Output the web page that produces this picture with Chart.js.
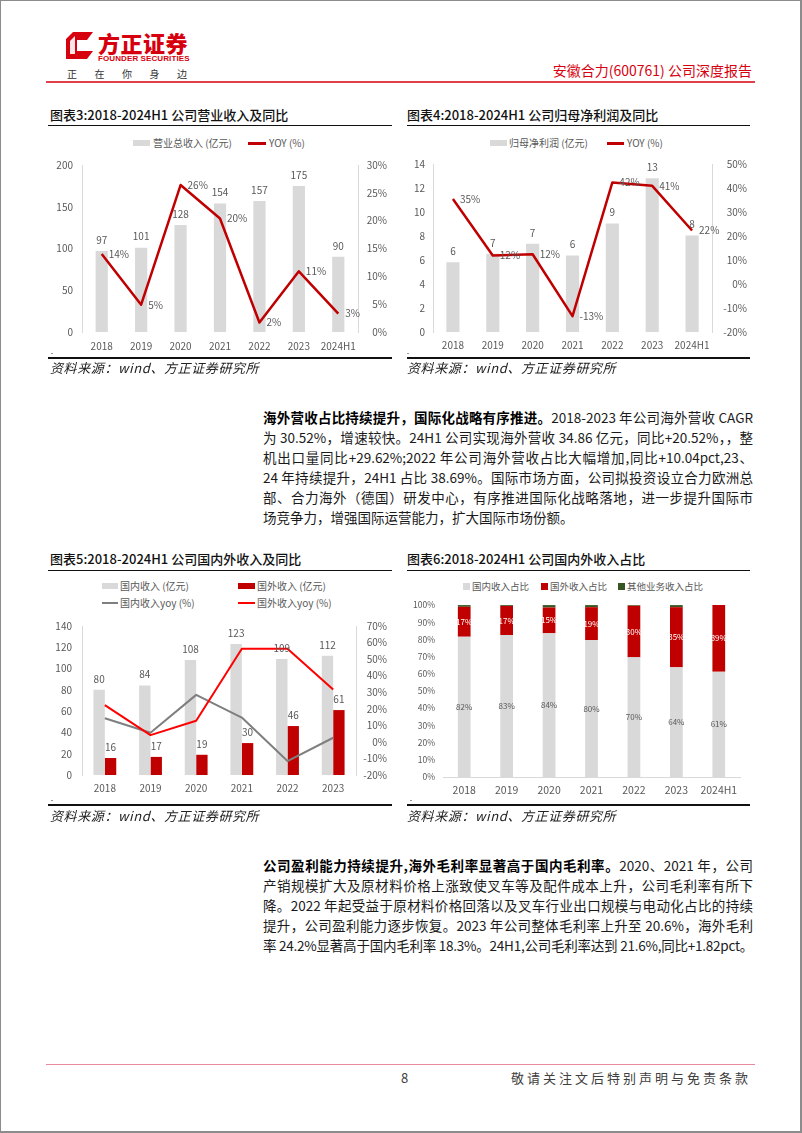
<!DOCTYPE html>
<html>
<head>
<meta charset="utf-8">
<script src="https://cdn.jsdelivr.net/npm/chart.js@4.4.1/dist/chart.umd.min.js"></script>
<style>
  body { margin: 0; background: #fff; font-family: "Noto Sans CJK SC", sans-serif; }
  #page { position: relative; width: 802px; height: 1133px; overflow: hidden; background: #fff; }
  #frame { position: absolute; left: 0; top: 0; right: 0; bottom: 0; border: 1px solid #8c8c8c; border-right-width: 2px; border-bottom-width: 2px; pointer-events: none; }
  .abs { position: absolute; white-space: nowrap; }
  .ttl { position: absolute; font-size: 13px; font-weight: 500; color: #111; line-height: 16px; white-space: nowrap; }
  .rule { position: absolute; height: 0; border-top: 1.5px solid #111; }
  .rule2 { position: absolute; height: 0; border-top: 2px solid #111; }
  .src { position: absolute; font-size: 13px; font-style: italic; color: #222; line-height: 16px; white-space: nowrap; letter-spacing: 0.6px; }
  .lg { position: absolute; font-size: 10px; color: #595959; line-height: 12px; white-space: nowrap; }
  .sw { position: absolute; }
  .ln { position: absolute; left: 263px; width: 490px; font-size: 13.5px; line-height: 18px; color: #1a1a1a; white-space: nowrap; text-align: justify; text-align-last: justify; }
  .ln b { font-weight: bold; color: #000; }
  canvas { position: absolute; }
</style>
</head>
<body>
<div id="page">
  <!-- header -->
  <svg class="abs" style="left:66px;top:32px" width="28" height="27" viewBox="0 0 28 27">
    <path d="M7 0 H27 L21 8 H11 V19 H27 L21 27 H0 V7 Z" fill="#d7000f"/>
    <path d="M4 9 L9 4 V22 H4 Z" fill="#fff" opacity="0.9"/>
  </svg>
  <div class="abs" style="left:98px;top:29px;font-size:22px;font-weight:900;color:#d7000f;line-height:26px;letter-spacing:0.5px">方正证券</div>
  <div class="abs" style="left:98px;top:54px;font-size:8px;font-weight:bold;color:#d7000f;line-height:10px;font-family:'Liberation Sans',sans-serif;letter-spacing:0.1px">FOUNDER SECURITIES</div>
  <div class="abs" style="left:67px;top:67px;font-size:10px;color:#333;line-height:14px;letter-spacing:17.5px">正在你身边</div>
  <div class="abs" style="right:50px;top:61px;font-size:14px;color:#d7000f;line-height:18px">安徽合力(600761) 公司深度报告</div>
  <div class="abs" style="left:46px;top:81px;width:709px;height:1.5px;background:#e0404c"></div>

  <!-- chart 3 -->
  <div class="ttl" style="left:50px;top:107px">图表3:2018-2024H1 公司营业收入及同比</div>
  <div class="rule" style="left:48px;top:125px;width:344px"></div>
  <div class="sw" style="left:133px;top:140px;width:17px;height:6px;background:#d9d9d9"></div>
  <div class="lg" style="left:153px;top:137px">营业总收入 (亿元)</div>
  <div class="sw" style="left:248px;top:142px;width:18px;height:2.5px;background:#c00000"></div>
  <div class="lg" style="left:269px;top:137px">YOY (%)</div>
  <canvas id="c3" width="352" height="210" style="left:40px;top:150px"></canvas>
  <div class="sw" style="left:51px;top:353px;width:2px;height:1px;background:#999"></div>
  <div class="rule2" style="left:48px;top:357px;width:344px"></div>
  <div class="src" style="left:50px;top:360px">资料来源：wind、方正证券研究所</div>

  <!-- chart 4 -->
  <div class="ttl" style="left:407px;top:107px">图表4:2018-2024H1 公司归母净利润及同比</div>
  <div class="rule" style="left:407px;top:125px;width:343px"></div>
  <div class="sw" style="left:490px;top:140px;width:17px;height:6px;background:#d9d9d9"></div>
  <div class="lg" style="left:509px;top:137px">归母净利润 (亿元)</div>
  <div class="sw" style="left:607px;top:142px;width:17px;height:2.5px;background:#c00000"></div>
  <div class="lg" style="left:627px;top:137px">YOY (%)</div>
  <canvas id="c4" width="352" height="210" style="left:400px;top:150px"></canvas>
  <div class="sw" style="left:407px;top:353px;width:2px;height:1px;background:#999"></div>
  <div class="rule2" style="left:407px;top:357px;width:343px"></div>
  <div class="src" style="left:407px;top:360px">资料来源：wind、方正证券研究所</div>

  <!-- paragraph 1 -->
  <div class="ln" style="top:408px"><b>海外营收占比持续提升，国际化战略有序推进。</b>2018-2023 年公司海外营收 CAGR</div>
  <div class="ln" style="top:428px">为 30.52%，增速较快。24H1 公司实现海外营收 34.86 亿元，同比+20.52%，，整</div>
  <div class="ln" style="top:448px">机出口量同比+29.62%;2022 年公司海外营收占比大幅增加,同比+10.04pct,23、</div>
  <div class="ln" style="top:468px">24 年持续提升，24H1 占比 38.69%。国际市场方面，公司拟投资设立合力欧洲总</div>
  <div class="ln" style="top:488px">部、合力海外（德国）研发中心，有序推进国际化战略落地，进一步提升国际市</div>
  <div class="ln" style="top:508px;text-align-last:left">场竞争力，增强国际运营能力，扩大国际市场份额。</div>

  <!-- chart 5 -->
  <div class="ttl" style="left:50px;top:551px">图表5:2018-2024H1 公司国内外收入及同比</div>
  <div class="rule" style="left:48px;top:570px;width:344px"></div>
  <div class="sw" style="left:102px;top:583px;width:16px;height:6px;background:#d9d9d9"></div>
  <div class="lg" style="left:120px;top:580px">国内收入 (亿元)</div>
  <div class="sw" style="left:238px;top:583px;width:17px;height:6px;background:#c00000"></div>
  <div class="lg" style="left:257px;top:580px">国外收入 (亿元)</div>
  <div class="sw" style="left:102px;top:602px;width:16px;height:2px;background:#7f7f7f"></div>
  <div class="lg" style="left:120px;top:597px">国内收入yoy (%)</div>
  <div class="sw" style="left:238px;top:602px;width:17px;height:2px;background:#ff0000"></div>
  <div class="lg" style="left:257px;top:597px">国外收入yoy (%)</div>
  <canvas id="c5" width="352" height="195" style="left:40px;top:610px"></canvas>
  <div class="sw" style="left:51px;top:800px;width:2px;height:1px;background:#999"></div>
  <div class="rule2" style="left:48px;top:804px;width:344px"></div>
  <div class="src" style="left:50px;top:808px">资料来源：wind、方正证券研究所</div>

  <!-- chart 6 -->
  <div class="ttl" style="left:407px;top:551px">图表6:2018-2024H1 公司国内外收入占比</div>
  <div class="rule" style="left:407px;top:570px;width:343px"></div>
  <div class="sw" style="left:463px;top:583px;width:7px;height:7px;background:#d9d9d9"></div>
  <div class="lg" style="left:472px;top:580px;font-size:9.5px">国内收入占比</div>
  <div class="sw" style="left:541px;top:583px;width:7px;height:7px;background:#c00000"></div>
  <div class="lg" style="left:550px;top:580px;font-size:9.5px">国外收入占比</div>
  <div class="sw" style="left:618px;top:583px;width:7px;height:7px;background:#375623"></div>
  <div class="lg" style="left:627px;top:580px;font-size:9.5px">其他业务收入占比</div>
  <canvas id="c6" width="352" height="213" style="left:400px;top:592px"></canvas>
  <div class="sw" style="left:410px;top:800px;width:2px;height:1px;background:#999"></div>
  <div class="rule2" style="left:407px;top:804px;width:343px"></div>
  <div class="src" style="left:407px;top:808px">资料来源：wind、方正证券研究所</div>

  <!-- paragraph 2 -->
  <div class="ln" style="top:856px"><b>公司盈利能力持续提升,海外毛利率显著高于国内毛利率。</b>2020、2021 年，公司</div>
  <div class="ln" style="top:876px">产销规模扩大及原材料价格上涨致使叉车等及配件成本上升，公司毛利率有所下</div>
  <div class="ln" style="top:896px">降。2022 年起受益于原材料价格回落以及叉车行业出口规模与电动化占比的持续</div>
  <div class="ln" style="top:916px">提升，公司盈利能力逐步恢复。2023 年公司整体毛利率上升至 20.6%，海外毛利</div>
  <div class="ln" style="top:936px">率 24.2%显著高于国内毛利率 18.3%。24H1,公司毛利率达到 21.6%,同比+1.82pct。</div>

  <!-- footer -->
  <div class="abs" style="left:46px;top:1064px;width:709px;height:1px;background:#e8899c"></div>
  <div class="abs" style="left:401px;top:1070px;font-size:13px;color:#404040;line-height:16px">8</div>
  <div class="abs" style="left:511px;top:1070px;font-size:13px;color:#404040;line-height:16px;letter-spacing:3px">敬请关注文后特别声明与免责条款</div>

  <div id="frame"></div>
</div>

<script>
// ---- data ----
const years7 = ["2018", "2019", "2020", "2021", "2022", "2023", "2024H1"];
const years6 = ["2018", "2019", "2020", "2021", "2022", "2023"];

// 图表3 营业总收入 (亿元) / YOY (%)
const revenue = [97, 101, 128, 154, 157, 175, 90];
const revenueYoy = [14.0, 4.9, 26.4, 20.4, 1.7, 10.9, 3.3];

// 图表4 归母净利润 (亿元) / YOY (%)
const netProfit = [5.82, 6.52, 7.35, 6.38, 9.05, 12.81, 8.04];
const netProfitYoy = [35.4, 11.9, 12.4, -13.4, 42.3, 40.9, 22.3];

// 图表5 国内/国外收入 (亿元) 及 yoy (%)
const domesticRev = [80, 84, 108, 123, 109, 112];
const overseasRev = [16, 17, 19, 30, 46, 61];
const domesticYoy = [14.3, 5.5, 28.4, 14.7, -11.6, 2.5];
const overseasYoy = [22.2, 4.1, 12.8, 56.3, 56.3, 31.6];

// 图表6 收入占比 (%)
const domesticShare = [81.6, 82.6, 83.6, 79.6, 69.6, 63.8, 61.3];
const overseasShare = [17.4, 16.9, 15.0, 19.2, 30.0, 35.0, 38.7];
const otherShare = [1.0, 0.5, 1.4, 1.2, 0.4, 1.2, 0.0];

const GREY_BAR = "#d9d9d9";
const DARK_RED = "#c00000";
const TICK = "#595959";
const FONT = '"Noto Sans CJK SC", sans-serif';

Chart.defaults.font.family = FONT;
Chart.defaults.font.size = 10;
Chart.defaults.color = TICK;
Chart.defaults.animation = false;

// draws the value labels (Excel style data labels)
const valueLabels = {
  id: "valueLabels",
  afterDatasetsDraw(chart) {
    const ctx = chart.ctx;
    chart.data.datasets.forEach((ds, i) => {
      if (!ds.labelPos) return;
      const meta = chart.getDatasetMeta(i);
      ctx.save();
      ctx.font = ds.labelFont || "10px " + FONT;
      ctx.fillStyle = ds.labelColor || TICK;
      meta.data.forEach((el, j) => {
        const txt = ds.labelFmt(ds.data[j]);
        if (ds.labelPos === "top") {
          ctx.textAlign = "center";
          ctx.textBaseline = "bottom";
          ctx.fillText(txt, el.x, el.y - 6);
        } else if (ds.labelPos === "right") {
          ctx.textAlign = "left";
          ctx.textBaseline = "middle";
          ctx.fillText(txt, el.x + 7, el.y);
        } else if (ds.labelPos === "center") {
          ctx.textAlign = "center";
          ctx.textBaseline = "middle";
          ctx.fillText(txt, el.x, (el.y + el.base) / 2);
        }
      });
      ctx.restore();
    });
  },
};

const roundNum = (v) => String(Math.round(v));
const roundPct = (v) => Math.round(v) + "%";
const noGrid = { display: false, drawTicks: false };

function xScale(height, pad, size) {
  return {
    type: "category",
    offset: true,
    grid: noGrid,
    border: { display: false },
    ticks: { color: TICK, padding: pad, font: { size: size || 10 }, maxRotation: 0, minRotation: 0, autoSkip: false },
    afterFit: (s) => { s.height = height; },
  };
}

// 图表3
new Chart(document.getElementById("c3"), {
  data: {
    labels: years7,
    datasets: [
      {
        type: "line", label: "YOY (%)", data: revenueYoy, yAxisID: "y1", order: 0,
        borderColor: DARK_RED, borderWidth: 2.5, pointRadius: 0, tension: 0, borderJoinStyle: "round",
        labelPos: "right", labelFmt: roundPct,
      },
      {
        type: "bar", label: "营业总收入 (亿元)", data: revenue, yAxisID: "y", order: 1,
        backgroundColor: GREY_BAR, categoryPercentage: 1, barPercentage: 0.31,
        labelPos: "top", labelFmt: roundNum,
      },
    ],
  },
  options: {
    responsive: false,
    layout: { padding: { top: 13, right: 5, left: 0, bottom: 0 } },
    plugins: { legend: { display: false }, tooltip: { enabled: false } },
    scales: {
      x: xScale(28, 8),
      y: {
        position: "left", min: 0, max: 200,
        grid: noGrid, border: { display: true, color: GREY_BAR },
        ticks: { stepSize: 50, padding: 9, color: TICK },
        afterFit: (s) => { s.width = 42; },
      },
      y1: {
        position: "right", min: 0, max: 30,
        grid: noGrid, border: { display: true, color: GREY_BAR },
        ticks: { stepSize: 5, crossAlign: "far", color: TICK, callback: (v) => v + "%" },
        afterFit: (s) => { s.width = 29; },
      },
    },
  },
  plugins: [valueLabels],
});

// 图表4
new Chart(document.getElementById("c4"), {
  data: {
    labels: years7,
    datasets: [
      {
        type: "line", label: "YOY (%)", data: netProfitYoy, yAxisID: "y1", order: 0,
        borderColor: DARK_RED, borderWidth: 2.5, pointRadius: 0, tension: 0, borderJoinStyle: "round",
        labelPos: "right", labelFmt: roundPct,
      },
      {
        type: "bar", label: "归母净利润 (亿元)", data: netProfit, yAxisID: "y", order: 1,
        backgroundColor: GREY_BAR, categoryPercentage: 1, barPercentage: 0.33,
        labelPos: "top", labelFmt: roundNum,
      },
    ],
  },
  options: {
    responsive: false,
    layout: { padding: { top: 13, right: 5, left: 0, bottom: 0 } },
    plugins: { legend: { display: false }, tooltip: { enabled: false } },
    scales: {
      x: xScale(28, 7),
      y: {
        position: "left", min: 0, max: 14,
        grid: noGrid, border: { display: true, color: GREY_BAR },
        ticks: { stepSize: 2, padding: 8, color: TICK },
        afterFit: (s) => { s.width = 33; },
      },
      y1: {
        position: "right", min: -20, max: 50,
        grid: noGrid, border: { display: true, color: GREY_BAR },
        ticks: { stepSize: 10, crossAlign: "far", color: TICK, callback: (v) => v + "%" },
        afterFit: (s) => { s.width = 35; },
      },
    },
  },
  plugins: [valueLabels],
});

// 图表5
new Chart(document.getElementById("c5"), {
  data: {
    labels: years6,
    datasets: [
      {
        type: "line", label: "国外收入yoy (%)", data: overseasYoy, yAxisID: "y1", order: 0,
        borderColor: "#ff0000", borderWidth: 2, pointRadius: 0, tension: 0, borderJoinStyle: "round",
      },
      {
        type: "line", label: "国内收入yoy (%)", data: domesticYoy, yAxisID: "y1", order: 1,
        borderColor: "#7f7f7f", borderWidth: 2, pointRadius: 0, tension: 0, borderJoinStyle: "round",
      },
      {
        type: "bar", label: "国内收入 (亿元)", data: domesticRev, yAxisID: "y", order: 2,
        backgroundColor: GREY_BAR, categoryPercentage: 0.5, barPercentage: 1,
        labelPos: "top", labelFmt: roundNum,
      },
      {
        type: "bar", label: "国外收入 (亿元)", data: overseasRev, yAxisID: "y", order: 2,
        backgroundColor: DARK_RED, categoryPercentage: 0.5, barPercentage: 1,
        labelPos: "top", labelFmt: roundNum,
      },
    ],
  },
  options: {
    responsive: false,
    layout: { padding: { top: 12, right: 5, left: 0, bottom: 0 } },
    plugins: { legend: { display: false }, tooltip: { enabled: false } },
    scales: {
      x: xScale(30, 7),
      y: {
        position: "left", min: 0, max: 140,
        grid: noGrid, border: { display: true, color: GREY_BAR },
        ticks: { stepSize: 20, padding: 10, color: TICK },
        afterFit: (s) => { s.width = 42; },
      },
      y1: {
        position: "right", min: -20, max: 70,
        grid: noGrid, border: { display: true, color: GREY_BAR },
        ticks: { stepSize: 10, crossAlign: "far", color: TICK, callback: (v) => v + "%" },
        afterFit: (s) => { s.width = 31; },
      },
    },
  },
  plugins: [valueLabels],
});

// 图表6
new Chart(document.getElementById("c6"), {
  type: "bar",
  data: {
    labels: years7,
    datasets: [
      {
        label: "国内收入占比", data: domesticShare, backgroundColor: GREY_BAR,
        categoryPercentage: 1, barPercentage: 0.3,
        labelPos: "center", labelFmt: roundPct, labelFont: "8px " + FONT, labelColor: "#595959",
      },
      {
        label: "国外收入占比", data: overseasShare, backgroundColor: DARK_RED,
        categoryPercentage: 1, barPercentage: 0.3,
        labelPos: "center", labelFmt: roundPct, labelFont: "8px " + FONT, labelColor: "#ffffff",
      },
      {
        label: "其他业务收入占比", data: otherShare, backgroundColor: "#375623",
        categoryPercentage: 1, barPercentage: 0.3,
      },
    ],
  },
  options: {
    responsive: false,
    layout: { padding: { top: 12, right: 12, left: 0, bottom: 0 } },
    plugins: { legend: { display: false }, tooltip: { enabled: false } },
    scales: {
      x: {
        stacked: true, offset: true,
        grid: noGrid, border: { display: true, color: GREY_BAR },
        ticks: { color: TICK, padding: 7, font: { size: 10.5 }, maxRotation: 0, minRotation: 0, autoSkip: false },
        afterFit: (s) => { s.height = 28; },
      },
      y: {
        stacked: true, min: 0, max: 100,
        grid: noGrid, border: { display: false },
        ticks: { stepSize: 10, padding: 8, color: TICK, font: { size: 8.5 }, callback: (v) => v + "%" },
        afterFit: (s) => { s.width = 43; },
      },
    },
  },
  plugins: [valueLabels],
});

// squeeze any paragraph line that is wider than its box
document.querySelectorAll(".ln").forEach((el) => {
  const natural = el.scrollWidth;
  const box = el.clientWidth;
  if (natural > box) {
    const n = el.textContent.length;
    el.style.letterSpacing = ((box - natural) / n).toFixed(2) + "px";
  }
});
</script>
</body>
</html>
